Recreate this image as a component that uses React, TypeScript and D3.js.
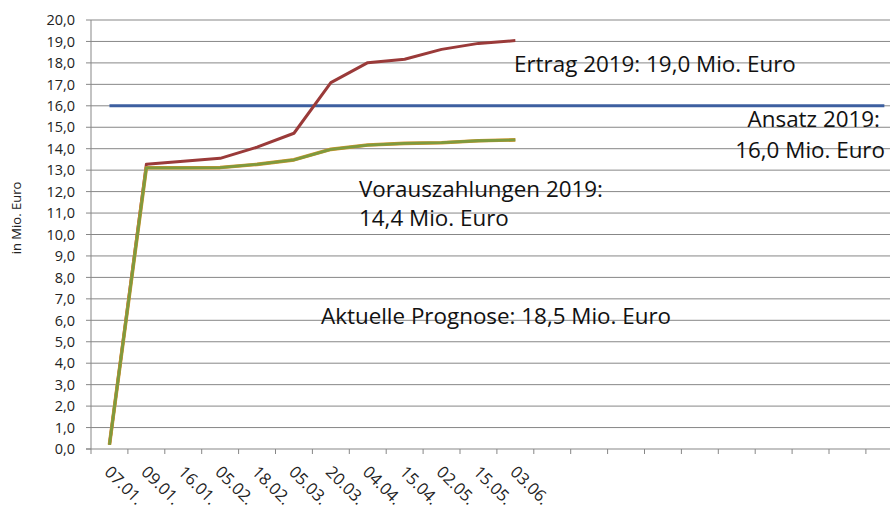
import React from "react";
import * as d3 from "d3";

const categories = ["07.01.", "09.01.", "16.01.", "05.02.", "18.02.", "05.03.", "20.03.", "04.04.", "15.04.", "02.05.", "15.05.", "03.06.", "", "", "", "", "", "", "", "", "", ""];
const ertrag = [0.2, 13.27, 13.41, 13.55, 14.07, 14.72, 17.08, 18.01, 18.17, 18.63, 18.91, 19.04];
const vorauszahlungen = [0.2, 13.11, 13.11, 13.12, 13.27, 13.48, 13.97, 14.17, 14.25, 14.28, 14.37, 14.41];
const ansatz = [16.0, 16.0, 16.0, 16.0, 16.0, 16.0, 16.0, 16.0, 16.0, 16.0, 16.0, 16.0, 16.0, 16.0, 16.0, 16.0, 16.0, 16.0, 16.0, 16.0, 16.0, 16.0];
const yTicks = [0, 1, 2, 3, 4, 5, 6, 7, 8, 9, 10, 11, 12, 13, 14, 15, 16, 17, 18, 19, 20];
const yLabel = "in Mio. Euro";
const notes = [
  { lines: ["Ertrag 2019: 19,0 Mio. Euro"], x: 514, y: 72, anchor: "start", gap: 0, shift: 0 },
  { lines: ["Ansatz 2019:", "16,0 Mio. Euro"], x: 880, y: 127, anchor: "end", gap: 31, shift: 5 },
  { lines: ["Vorauszahlungen 2019:", "14,4 Mio. Euro"], x: 359, y: 197, anchor: "start", gap: 29, shift: 0 },
  { lines: ["Aktuelle Prognose: 18,5 Mio. Euro"], x: 321, y: 324, anchor: "start", gap: 0, shift: 0 },
];

const W = 890;
const H = 511;
const left = 91;
const top = 20;
const bottom = 449;
const step = 36.9;
const FONT = "'Open Sans', 'Noto Sans', sans-serif";

export default function App() {
  const x = d3.scaleBand<number>()
    .domain(categories.map((_, i) => i))
    .range([left, left + step * categories.length])
    .paddingInner(0).paddingOuter(0);
  const y = d3.scaleLinear().domain([0, 20]).range([bottom, top]);
  const cx = (i: number) => (x(i) as number) + x.bandwidth() / 2;
  const line = d3.line<number>().x((_, i) => cx(i)).y((d) => y(d));
  const right = left + step * categories.length;
  const grid = "#878787";

  return (
    <div style={{ position: "absolute", left: 0, top: 0 }}>
      <svg width={W} height={H} style={{ display: "block", background: "#fff" }} fontFamily={FONT}>
        {yTicks.map((t) => (
          <g key={t}>
            {t > 0 && <line x1={left} x2={right} y1={y(t)} y2={y(t)} stroke={grid} strokeWidth={1} />}
            <line x1={left - 5} x2={left} y1={y(t)} y2={y(t)} stroke={grid} strokeWidth={1} />
            <text x={75} y={y(t)} dy="0.36em" textAnchor="end" fontSize={14.5} fill="#222">
              {d3.format(".1f")(t).replace(".", ",")}
            </text>
          </g>
        ))}
        <line x1={left} x2={left} y1={top} y2={bottom + 5} stroke={grid} strokeWidth={1} />
        <line x1={left - 5} x2={right} y1={bottom} y2={bottom} stroke={grid} strokeWidth={1} />
        {categories.map((c, i) => (
          <g key={"xt" + i}>
            <line x1={(x(i) as number) + step} x2={(x(i) as number) + step} y1={bottom} y2={bottom + 5} stroke={grid} strokeWidth={1} />
            {c && (
              <text transform={`translate(${cx(i) - 6},${bottom + 24}) rotate(45)`} fontSize={16.5} fill="#222">
                {c}
              </text>
            )}
          </g>
        ))}
        <text transform={`translate(21,218) rotate(-90)`} textAnchor="middle" fontSize={13} fill="#222">
          {yLabel}
        </text>
        <path d={line(ansatz) as string} fill="none" stroke="#3D5FA0" strokeWidth={3} />
        <path d={line(ertrag) as string} fill="none" stroke="#9A3A39" strokeWidth={3} strokeLinejoin="round" />
        <path d={line(vorauszahlungen) as string} fill="none" stroke="#D9952E" strokeWidth={3.6} strokeLinejoin="round" />
        <path d={line(vorauszahlungen) as string} fill="none" stroke="#7E9A3E" strokeWidth={2.8} strokeLinejoin="round" />
        {notes.map((n, k) => (
          <text key={k} x={n.x} y={n.y} textAnchor={n.anchor as any} fontSize={22.4} fill="#111">
            {n.lines.map((l, j) => (
              <tspan key={j} x={j === 1 ? n.x + n.shift : n.x} dy={j === 0 ? 0 : n.gap}>{l}</tspan>
            ))}
          </text>
        ))}
      </svg>
    </div>
  );
}
